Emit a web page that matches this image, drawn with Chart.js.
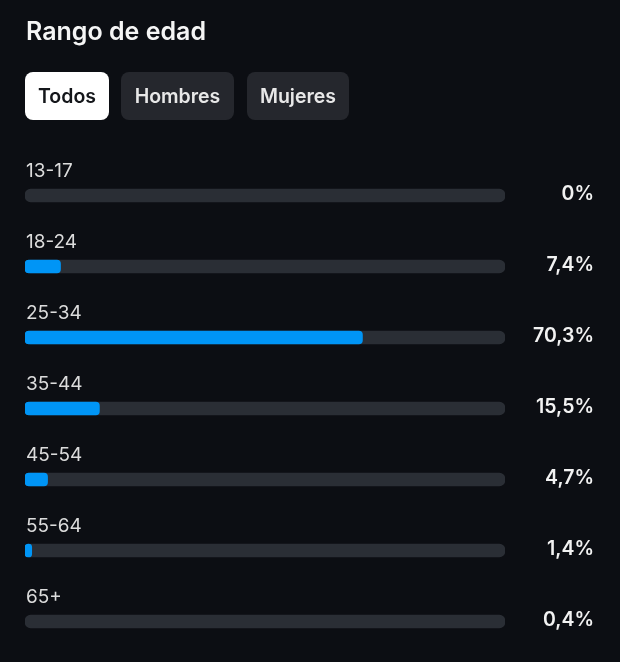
<!DOCTYPE html>
<html lang="es">
<head>
<meta charset="utf-8">
<title>Rango de edad</title>
<script src="https://cdn.jsdelivr.net/npm/chart.js@4"></script>
<style>
  html, body { margin: 0; padding: 0; background: #0c0e13; }
  body { width: 620px; height: 662px; position: relative; overflow: hidden; font-family: Inter, "Noto Sans", sans-serif; }
  h1 { position: absolute; left: 26px; top: 17px; margin: 0; font-size: 25px; line-height: 28px; font-weight: 600; color: #f5f5f5; }
  .tab { position: absolute; top: 72px; height: 48px; line-height: 49px; border-radius: 8px; background: #25272d; color: #e8e8e8; font-size: 19.5px; font-weight: 600; text-align: center; }
  .tab.on { background: #fff; color: #14161a; }
  #wrap { position: absolute; left: 0; top: 0; width: 620px; height: 662px; }
</style>
</head>
<body>
<div id="wrap"><canvas id="chartEdad"></canvas></div>
<h1>Rango de edad</h1>
<div class="tab on" style="left:25px;width:84px">Todos</div>
<div class="tab" style="left:121px;width:113px">Hombres</div>
<div class="tab" style="left:247px;width:102px">Mujeres</div>
<script>
const categorias = ['13-17', '18-24', '25-34', '35-44', '45-54', '55-64', '65+'];
const valores = [0, 7.4, 70.3, 15.5, 4.7, 1.4, 0.4];
const fondo = [100, 100, 100, 100, 100, 100, 100];

const fmt = v => String(v).replace('.', ',') + '%';

// etiquetas encima de cada barra y porcentaje a la derecha
const etiquetas = {
    id: 'etiquetas',
    afterDatasetsDraw(chart) {
        const { ctx, scales: { x, y } } = chart;
        ctx.save();
        ctx.textBaseline = 'middle';
        categorias.forEach((cat, i) => {
            const cy = y.getPixelForValue(i);
            ctx.textAlign = 'left';
            ctx.fillStyle = '#dcdcdc';
            ctx.font = '400 19px Inter, "Noto Sans", sans-serif';
            ctx.fillText(cat, x.left + 1, cy - 24);
            ctx.textAlign = 'right';
            ctx.fillStyle = '#f2f2f2';
            ctx.font = '600 19.5px Inter, "Noto Sans", sans-serif';
            ctx.fillText(fmt(valores[i]), 594, cy - 1);
        });
        ctx.restore();
    }
};

new Chart(document.getElementById('chartEdad'), {
    type: 'bar',
    data: {
        labels: categorias,
        datasets: [
            {
                label: 'Rango de edad',
                data: valores,
                // por debajo de 1% no se ve relleno en el original
                backgroundColor: c => valores[c.dataIndex] < 1 ? 'rgba(0,0,0,0)' : '#0095f6',
                grouped: false,
                barThickness: 13,
                borderRadius: 4,
                borderSkipped: false
            },
            {
                label: 'Total',
                data: fondo,
                backgroundColor: '#2a2e35',
                grouped: false,
                barThickness: 13,
                borderRadius: 6,
                borderSkipped: false
            }
        ]
    },
    options: {
        indexAxis: 'y',
        responsive: true,
        maintainAspectRatio: false,
        animation: false,
        layout: { padding: { left: 25, right: 115, top: 160, bottom: 5 } },
        scales: {
            x: { display: false, min: 0, max: 100 },
            y: { display: false }
        },
        plugins: { legend: { display: false }, tooltip: { enabled: false } }
    },
    plugins: [etiquetas]
});
</script>
</body>
</html>
